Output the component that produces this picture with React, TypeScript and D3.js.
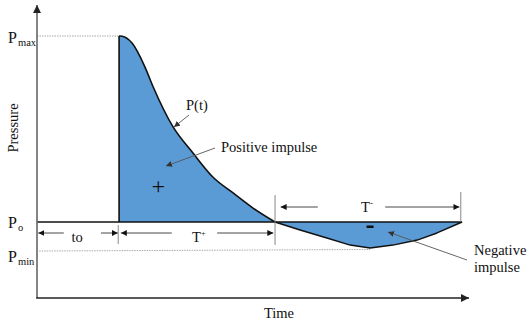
import React, { useEffect, useRef } from 'react';
import * as d3 from 'd3';

// time in arbitrary units, pressure normalised: Po = 0, Pmax = 1
const positiveTime = [19, 19.3, 22, 25, 26.9, 31.5, 36.1, 40.7, 45.4, 50, 55.1];
const positivePressure = [1, 1, 0.962, 0.833, 0.726, 0.511, 0.371, 0.242, 0.156, 0.075, 0];
const negativeTime = [55.1, 60.9, 67.1, 72.5, 77.1, 82.4, 88, 92.6, 98.4];
const negativePressure = [0, -0.043, -0.086, -0.124, -0.14, -0.124, -0.097, -0.059, 0];

const arrivalTime = 19;
const positiveEnd = 55.1;
const negativeEnd = 98.4;
const pMax = 1;
const pMin = -0.156;

const App = () => {
  const ref = useRef<SVGSVGElement>(null);

  useEffect(() => {
    const svg = d3.select(ref.current);
    svg.selectAll('*').remove();

    const x = d3.scaleLinear().domain([0, 100]).range([37, 469]);
    const y = d3.scaleLinear().domain([0, 1]).range([222, 36]);
    const font = '"Liberation Serif", "Times New Roman", serif';

    const defs = svg.append('defs');
    const marker = (id, color, size) => {
      defs
        .append('marker')
        .attr('id', id)
        .attr('viewBox', '0 0 10 10')
        .attr('refX', 10)
        .attr('refY', 5)
        .attr('markerWidth', size)
        .attr('markerHeight', size)
        .attr('markerUnits', 'userSpaceOnUse')
        .attr('orient', 'auto')
        .append('path')
        .attr('d', 'M0,0L10,5L0,10z')
        .attr('fill', color);
    };
    marker('blk', '#111', 6);
    marker('gry', '#333', 6);
    marker('axis', '#222', 8);

    const g = svg.append('g');

    const posPts = positiveTime.map((t, i) => [t, positivePressure[i]]);
    const negPts = negativeTime.map((t, i) => [t, negativePressure[i]]);

    // shaded areas
    const areaPos = d3
      .area<number[]>()
      .x(d => x(d[0]))
      .y0(y(0))
      .y1(d => y(d[1]))
      .curve(d3.curveMonotoneX);
    const areaNeg = d3
      .area<number[]>()
      .x(d => x(d[0]))
      .y0(y(0))
      .y1(d => y(d[1]));
    g.append('path').attr('d', areaPos(posPts)).attr('fill', '#5b9bd5');
    g.append('rect')
      .attr('x', x(arrivalTime)).attr('y', y(pMax))
      .attr('width', x(19.3) - x(arrivalTime)).attr('height', y(0) - y(pMax))
      .attr('fill', '#5b9bd5');
    g.append('path').attr('d', areaNeg(negPts)).attr('fill', '#5b9bd5');

    // reference lines Pmax / Pmin
    g.append('line')
      .attr('x1', x(0)).attr('x2', x(arrivalTime))
      .attr('y1', y(pMax)).attr('y2', y(pMax))
      .attr('stroke', '#aaa').attr('stroke-width', 1).attr('stroke-dasharray', '1.5,1');
    g.append('line')
      .attr('x1', x(0.5)).attr('x2', x(77.1))
      .attr('y1', y(pMin)).attr('y2', y(pMin) - 1.5)
      .attr('stroke', '#aaa').attr('stroke-width', 1).attr('stroke-dasharray', '1.5,1');

    // baseline Po
    g.append('line')
      .attr('x1', x(0)).attr('x2', x(negativeEnd))
      .attr('y1', y(0)).attr('y2', y(0))
      .attr('stroke', '#111').attr('stroke-width', 1.6);

    // pressure curve
    const curvePos = d3.line<number[]>().x(d => x(d[0])).y(d => y(d[1])).curve(d3.curveMonotoneX);
    const curveNeg = d3.line<number[]>().x(d => x(d[0])).y(d => y(d[1]));
    g.append('line')
      .attr('x1', x(arrivalTime)).attr('x2', x(arrivalTime))
      .attr('y1', y(0)).attr('y2', y(pMax))
      .attr('stroke', '#111').attr('stroke-width', 1.6);
    g.append('path')
      .attr('d', curvePos(posPts))
      .attr('fill', 'none')
      .attr('stroke', '#111')
      .attr('stroke-width', 1.6)
      .attr('stroke-linejoin', 'round');
    g.append('path')
      .attr('d', curveNeg(negPts))
      .attr('fill', 'none')
      .attr('stroke', '#111')
      .attr('stroke-width', 1.4)
      .attr('stroke-linejoin', 'round');

    // axes
    g.append('line')
      .attr('x1', x(0)).attr('x2', x(0))
      .attr('y1', 298).attr('y2', 5)
      .attr('stroke', '#666').attr('stroke-width', 1.6)
      .attr('marker-end', 'url(#axis)');
    g.append('line')
      .attr('x1', x(0) - 0.8).attr('x2', x(100))
      .attr('y1', 298).attr('y2', 298)
      .attr('stroke', '#222').attr('stroke-width', 1.3)
      .attr('marker-end', 'url(#axis)');

    // vertical dimension ticks
    const vtick = (t, y1, y2) =>
      g.append('line')
        .attr('x1', x(t)).attr('x2', x(t))
        .attr('y1', y1).attr('y2', y2)
        .attr('stroke', '#888').attr('stroke-width', 1);
    vtick(arrivalTime - 0.2, 225, 244);
    vtick(positiveEnd, 195, 245);
    vtick(negativeEnd - 0.3, 192, 222);

    // dimension arrows
    const dim = (a, b, yy) =>
      g.append('line')
        .attr('x1', x(a)).attr('x2', x(b))
        .attr('y1', yy).attr('y2', yy)
        .attr('stroke', '#333').attr('stroke-width', 0.9)
        .attr('marker-end', 'url(#blk)');
    dim(6.2, 0.3, 233);
    dim(14.8, 18.7, 233);
    dim(31.2, 19.4, 233);
    dim(41.7, 54.7, 233);
    dim(65, 56.4, 207);
    dim(80.6, 97.8, 207);

    const text = (str, tx, ty, size, anchor = 'start') =>
      g.append('text')
        .attr('x', tx).attr('y', ty)
        .attr('font-family', font)
        .attr('font-size', size)
        .attr('fill', '#111')
        .attr('text-anchor', anchor)
        .text(str);

    text('to', x(9.3), 242, 14.5, 'middle');
    text('T', 192, 242, 14.5);
    text('+', 201, 236, 8);
    text('T', 361, 212, 14.5);
    text('-', 370, 206, 9);

    // y labels
    text('P', 8, 43, 16);
    text('max', 18, 46, 10.5);
    text('P', 8, 228, 16);
    text('o', 18, 231, 10.5);
    text('P', 8, 262, 16);
    text('min', 18, 265, 10.5);

    g.append('text')
      .attr('transform', 'translate(18,128) rotate(-90)')
      .attr('text-anchor', 'middle')
      .attr('font-family', font)
      .attr('font-size', 14.5)
      .attr('fill', '#111')
      .text('Pressure');
    text('Time', 279, 318, 14.5, 'middle');

    // annotations
    text('P(t)', 186, 110, 14.5);
    text('Positive impulse', 221, 152, 14.5);
    text('+', x(28.1), 194, 24, 'middle');
    g.append('rect')
      .attr('x', x(77.1) - 3.5).attr('y', 225.5)
      .attr('width', 7).attr('height', 2.5)
      .attr('fill', '#111');
    text('Negative', 474, 255, 14.5);
    text('impulse', 474, 272, 14.5);

    const pointer = (x1, y1, x2, y2) =>
      g.append('line')
        .attr('x1', x1).attr('y1', y1)
        .attr('x2', x2).attr('y2', y2)
        .attr('stroke', '#555').attr('stroke-width', 0.9)
        .attr('marker-end', 'url(#gry)');
    pointer(189, 115, 174, 127);
    pointer(215, 148, 166, 166);
    pointer(467, 260, 388, 232);
  }, []);

  return (
    <svg
      ref={ref}
      width={527}
      height={323}
      style={{ position: 'absolute', left: 0, top: 0, background: '#fff' }}
    />
  );
};

export default App;
